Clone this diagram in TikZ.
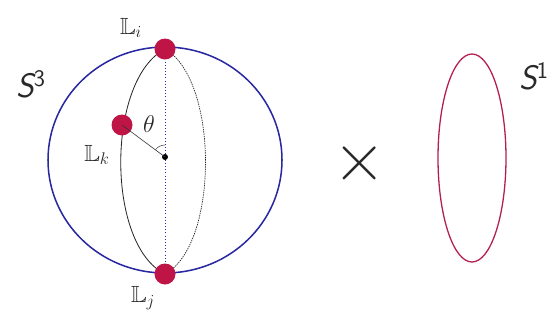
\documentclass[tikz,border=0pt]{standalone}
\usepackage{amssymb}
\usetikzlibrary{calc}
\definecolor{sphereblue}{RGB}{40,40,160}
\definecolor{dotred}{RGB}{190,20,70}
\definecolor{loopred}{RGB}{180,30,80}
\definecolor{txt}{RGB}{40,40,40}
\begin{document}
\begin{tikzpicture}[x=0.03cm,y=-0.03cm,
  pt/.style={circle,fill=dotred,inner sep=0pt,minimum size=21*0.03cm},
  lbl/.style={text=txt,inner sep=0pt},
  big/.style={lbl,font=\fontsize{29}{32}\selectfont\sffamily\itshape},
  mid/.style={lbl,font=\fontsize{20}{22}\selectfont}]
\useasboundingbox (0,0) rectangle (553,331);
\coordinate (C) at (165,160);
\coordinate (T) at (165,49);
\coordinate (B) at (165,274);
% sphere
\draw[sphereblue,line width=1.3pt] (C) ellipse[x radius=117,y radius=113];
% meridians
\draw[black!85,line width=0.7pt] (T) .. controls (106,80) and (106,245) .. (B);
\draw[black!85,line width=0.6pt,dash pattern=on 1.2pt off 0.8pt] (T) .. controls (219,80) and (219,245) .. (B);
\draw[sphereblue,line width=0.7pt,dotted] (T) -- (B);
% center and Lk
\node[circle,fill=black,inner sep=0pt,minimum size=6*0.03cm] (c) at (165,157) {};
\node[pt] (lk) at (122,125) {};
\draw[black!80,line width=0.5pt] (c.center) -- (lk.center);
\draw[black!80,line width=0.4pt] ($(c.center)+(0,-12)$) arc[start angle=90,end angle=143,radius=12*0.03cm];
\node[pt] (li) at (T) {};
\node[pt] (lj) at (B) {};
% labels
\node[mid] (tli) at (131,28) {$\mathbb{L}_i$};
\node[mid] (tlk) at (97,155) {$\mathbb{L}_k$};
\node[mid] (tlj) at (143,298) {$\mathbb{L}_j$};
\node[mid] (th) at (149,124) {$\theta$};
\node[big] (s3) at (31,84) {S\textsuperscript{\upshape 3}};
\node[lbl,font=\fontsize{62}{62}\selectfont] (x) at (360,164) {\texttimes};
% S1
\draw[loopred,line width=1.1pt] (472,158) ellipse[x radius=34,y radius=104];
\node[big,anchor=west] (s1) at (519,76) {S\textsuperscript{\upshape 1}};
\end{tikzpicture}
\end{document}
